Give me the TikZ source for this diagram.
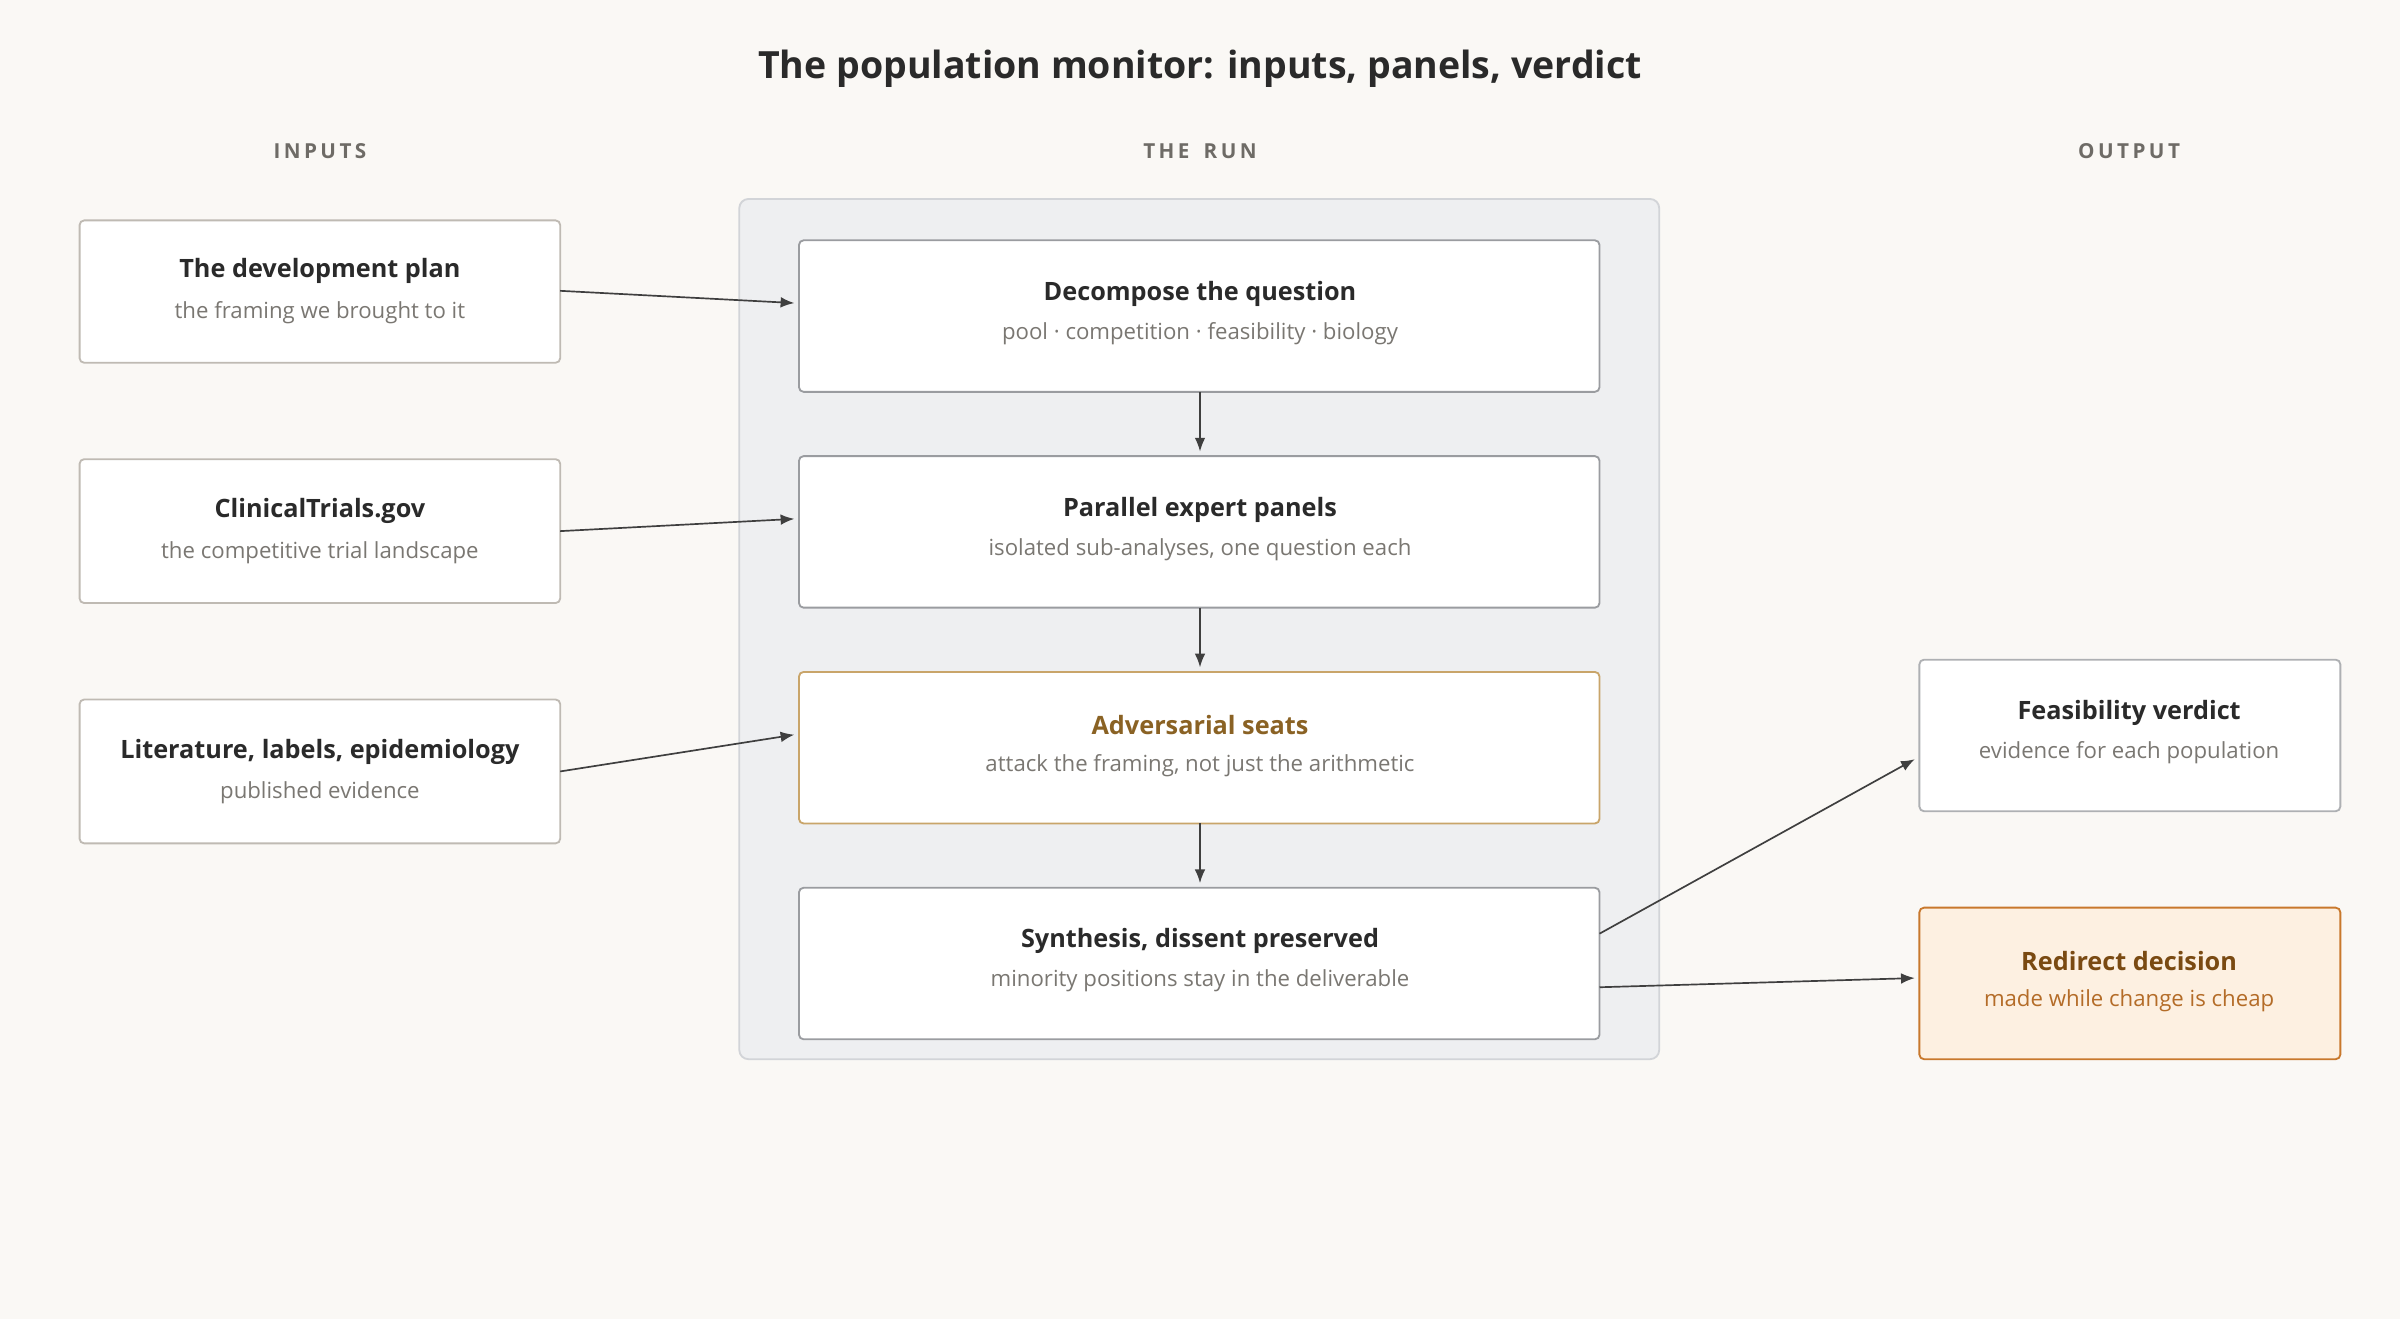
\documentclass[tikz,border=0pt]{standalone}
\usepackage{fontspec}
\setmainfont{Open Sans}
\usetikzlibrary{arrows.meta}
\definecolor{bg}{HTML}{FAF8F5}
\definecolor{inb}{HTML}{BFBAB3}
\definecolor{runb}{HTML}{9A9CA0}
\definecolor{cont}{HTML}{EEEFF1}
\definecolor{contb}{HTML}{D2D4D8}
\definecolor{gold}{HTML}{C9A56A}
\definecolor{goldt}{HTML}{8A6224}
\definecolor{orf}{HTML}{FDF0E1}
\definecolor{orb}{HTML}{C8782C}
\definecolor{ort}{HTML}{7A4A12}
\definecolor{sub}{HTML}{7A7772}
\definecolor{ttl}{HTML}{2A2A2A}
\definecolor{hdr}{HTML}{6E6B66}
\begin{document}
\begin{tikzpicture}[x=1pt,y=-1pt,
 box/.style={draw=inb,fill=white,rounded corners=3pt,line width=1.2pt},
 rbox/.style={draw=runb,fill=white,rounded corners=3pt,line width=1.2pt},
 t/.style={font=\fontsize{16.5}{19}\selectfont\bfseries,text=ttl},
 s/.style={font=\fontsize{14.5}{17}\selectfont,text=sub},
 h/.style={font=\fontsize{13.5}{16}\selectfont\bfseries,text=hdr},
 arr/.style={-{Latex[length=9pt,width=7pt]},line width=1.1pt,draw=ttl!90}]
\fill[bg] (0,0) rectangle (1568,862);
\useasboundingbox (0,0) rectangle (1568,862);
\node[font=\fontsize{24.5}{28}\selectfont\bfseries,text=ttl] (title) at (784,45) {The population monitor: inputs, panels, verdict};
\node[h] (h1) at (209,99) {I\,N\,P\,U\,T\,S};
\node[h] (h2) at (784,99) {T\,H\,E\,\ \ R\,U\,N};
\node[h] (h3) at (1391,99) {O\,U\,T\,P\,U\,T};
\draw[fill=cont,draw=contb,line width=1.2pt,rounded corners=6pt] (483,130) rectangle (1084,692);
% inputs
\draw[box] (52,144) rectangle (366,237); \coordinate (i1) at (209,190.5);
\draw[box] (52,300) rectangle (366,394); \coordinate (i2) at (209,347);
\draw[box] (52,457) rectangle (366,551); \coordinate (i3) at (209,504);
\node[t] at (209,177) {The development plan};
\node[s] at (209,204) {the framing we brought to it};
\node[t] at (209,334) {ClinicalTrials.gov};
\node[s] at (209,361) {the competitive trial landscape};
\node[t] at (209,491) {Literature, labels, epidemiology};
\node[s] at (209,518) {published evidence};
% run
\draw[rbox] (522,157) rectangle (1045,256);
\draw[rbox] (522,298) rectangle (1045,397);
\draw[box,draw=gold] (522,439) rectangle (1045,538);
\draw[rbox] (522,580) rectangle (1045,679);
\node[t] at (784,192) {Decompose the question};
\node[s] at (784,218) {pool · competition · feasibility · biology};
\node[t] at (784,333) {Parallel expert panels};
\node[s] at (784,359) {isolated sub-analyses, one question each};
\node[t,text=goldt] at (784,474) {Adversarial seats};
\node[s] at (784,500) {attack the framing, not just the arithmetic};
\node[t] at (784,615) {Synthesis, dissent preserved};
\node[s] at (784,641) {minority positions stay in the deliverable};
% outputs
\draw[box,draw=runb!80] (1254,431) rectangle (1529,530);
\draw[box,fill=orf,draw=orb] (1254,593) rectangle (1529,692);
\node[t] at (1391,466) {Feasibility verdict};
\node[s] at (1391,492) {evidence for each population};
\node[t,text=ort] at (1391,628) {Redirect decision};
\node[s,text=orb!90!black] at (1391,654) {made while change is cheap};
% connectors
\coordinate (a1) at (366,190); \coordinate (b1) at (519,198);
\coordinate (a2) at (366,347); \coordinate (b2) at (519,339);
\coordinate (a3) at (366,504); \coordinate (b3) at (519,480);
\draw[arr] (a1) -- (b1); \draw[arr] (a2) -- (b2); \draw[arr] (a3) -- (b3);
\coordinate (r1) at (784,256); \coordinate (r2) at (784,295);
\coordinate (r3) at (784,397); \coordinate (r4) at (784,436);
\coordinate (r5) at (784,538); \coordinate (r6) at (784,577);
\draw[arr] (r1) -- (r2); \draw[arr] (r3) -- (r4); \draw[arr] (r5) -- (r6);
\coordinate (s1) at (1045,610); \coordinate (o1) at (1251,496);
\coordinate (s2) at (1045,645); \coordinate (o2) at (1251,639);
\draw[arr] (s1) -- (o1); \draw[arr] (s2) -- (o2);
\end{tikzpicture}
\end{document}
